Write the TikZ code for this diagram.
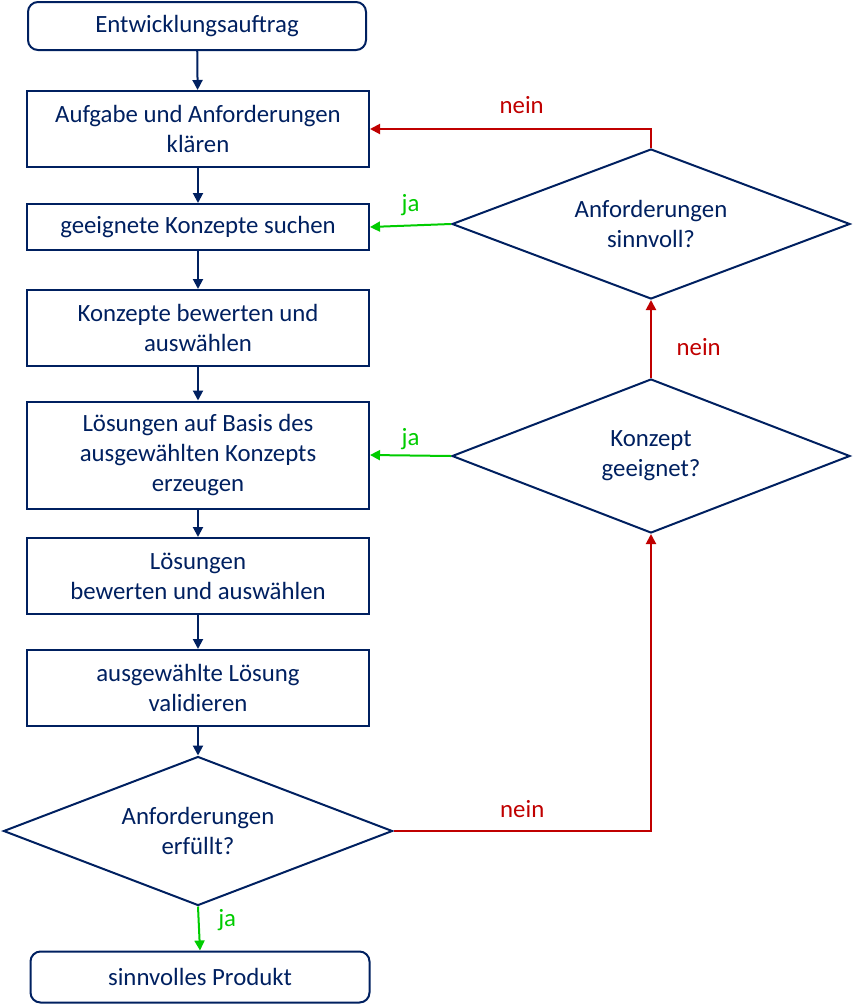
\documentclass[tikz,border=0pt]{standalone}
\usepackage{fontspec}
\setmainfont{Carlito}
\usepackage{tikz}
\usetikzlibrary{shapes.geometric,arrows.meta}
\definecolor{navy}{HTML}{002060}
\definecolor{neinred}{HTML}{C00000}
\definecolor{jagreen}{HTML}{00CC00}

\begin{document}
\begin{tikzpicture}[x=0.5pt, y=-0.5pt,
    every node/.style={font=\fontsize{12.4}{15}\selectfont},
    stepbox/.style={draw=navy, line width=1pt, text=navy, align=center, inner sep=0pt, minimum width=171pt},
    endbox/.style={stepbox, rounded corners=5pt, minimum width=169pt, minimum height=25pt},
    query/.style={draw=navy, line width=1pt, text=navy, align=center, diamond, aspect=2.65, inner sep=0pt},
    flow/.style={draw=navy, line width=1pt, -{Triangle[length=5pt,width=5pt]}},
    nein/.style={draw=neinred, line width=1pt, -{Triangle[length=5pt,width=5pt]}},
    ja/.style={draw=jagreen, line width=1pt, -{Triangle[length=5pt,width=5pt]}}]
  \useasboundingbox (0,0) rectangle (853,1008);
  % linke Spalte: Ablauf
  \node[endbox, minimum height=24pt] (auftrag) at (197,26) {Entwicklungsauftrag};
  \node[stepbox, minimum height=38pt] (klaeren) at (198,129) {Aufgabe und Anforderungen\\kl\"aren};
  \node[stepbox, minimum height=23pt] (suchen) at (198,227) {geeignete Konzepte suchen};
  \node[stepbox, minimum height=38pt] (bewerten) at (198,328) {Konzepte bewerten und\\ausw\"ahlen};
  \node[stepbox, minimum height=53.5pt] (erzeugen) at (198,455) {L\"osungen auf Basis des\\ausgew\"ahlten Konzepts\\erzeugen};
  \node[stepbox, minimum height=38pt] (loesbew) at (198,576) {L\"osungen\\bewerten und ausw\"ahlen};
  \node[stepbox, minimum height=38pt] (valid) at (198,688) {ausgew\"ahlte L\"osung\\validieren};
  \node[query, minimum width=194.5pt, minimum height=74.5pt] (erfuellt) at (198,831) {Anforderungen\\erf\"ullt?};
  \node[endbox, minimum height=25.5pt, minimum width=169.5pt] (produkt) at (200,977) {sinnvolles Produkt};
  % rechte Spalte: Rueckfragen
  \node[query, minimum width=199pt, minimum height=75pt] (sinnvoll) at (651,224) {Anforderungen\\sinnvoll?};
  \node[query, minimum width=199pt, minimum height=77pt] (geeignet) at (651,456) {Konzept\\geeignet?};

  \draw[flow] (auftrag) -- (klaeren);
  \draw[flow] (klaeren) -- (suchen);
  \draw[flow] (suchen) -- (bewerten);
  \draw[flow] (bewerten) -- (erzeugen);
  \draw[flow] (erzeugen) -- (loesbew);
  \draw[flow] (loesbew) -- (valid);
  \draw[flow] (valid) -- (erfuellt);

  \draw[ja] (erfuellt.south) -- (produkt.north) node[pos=0.3, right=6pt, text=jagreen] {ja};
  \draw[nein] (erfuellt.east) -| (geeignet.south) node[pos=0.25, above=3pt, text=neinred] {nein};
  \draw[nein] (geeignet.north) -- (sinnvoll.south) node[pos=0.4, right=9pt, text=neinred] {nein};
  \draw[nein] (sinnvoll.north) |- (klaeren.east) node[pos=0.73, above=4pt, text=neinred] {nein};
  \draw[ja] (sinnvoll.west) -- (suchen.east) node[midway, above=1pt, text=jagreen] {ja};
  \draw[ja] (geeignet.west) -- (erzeugen.east) node[midway, above=-1pt, text=jagreen] {ja};
\end{tikzpicture}
\end{document}
